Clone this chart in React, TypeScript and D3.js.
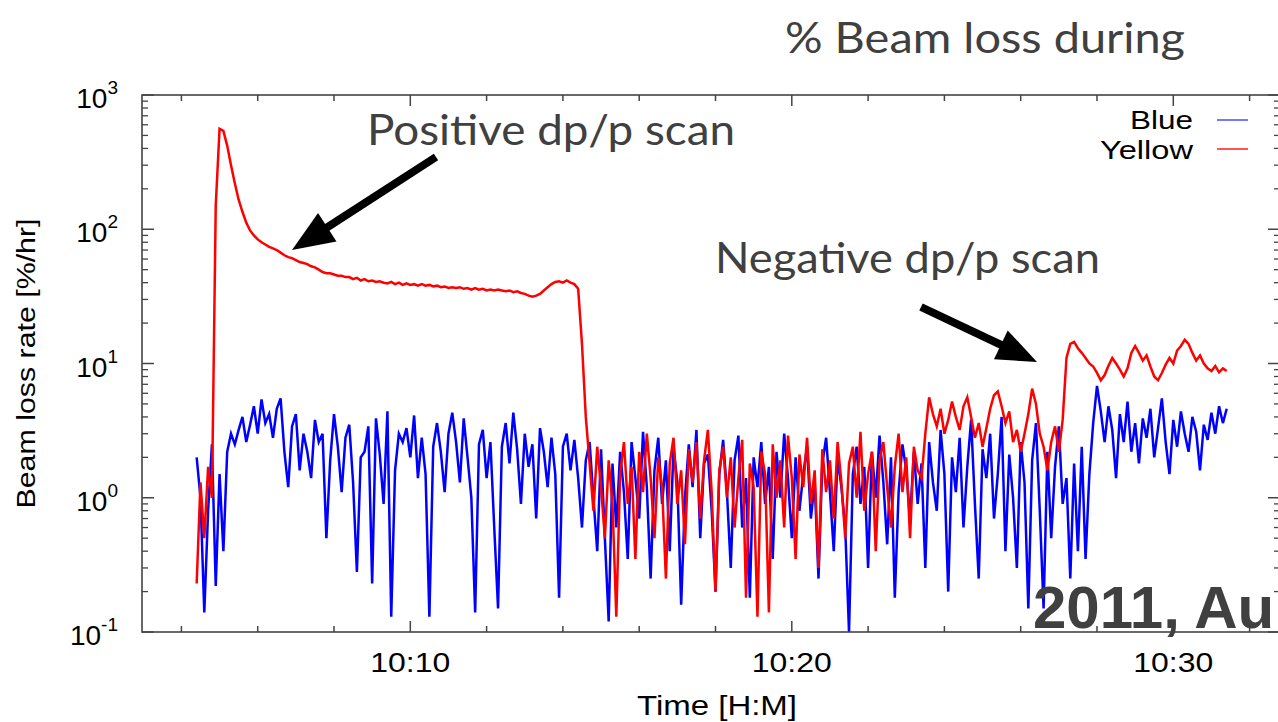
import React from "react";
import * as d3 from "d3";

// Sampling of both series: minutes after 10:00, one reading every 0.1 min
const sampleStart = 4.4;
const sampleStep = 0.1;

const blueValues = [
  2.0, 1.0, 0.14, 0.8, 2.5, 0.22, 1.5, 0.4, 2.2, 3.0,
  2.5, 3.2, 4.0, 2.6, 3.5, 4.8, 3.0, 5.4, 3.6, 4.2,
  2.8, 4.6, 5.5, 2.2, 1.2, 3.4, 4.2, 1.6, 3.0, 2.2,
  1.4, 3.8, 2.6, 3.0, 0.5, 1.9, 4.2, 2.4, 1.1, 2.8,
  3.5, 1.3, 0.28, 2.0, 2.2, 3.4, 0.23, 3.9, 2.1, 0.9,
  4.4, 0.13, 1.6, 3.0, 2.6, 3.3, 2.0, 4.1, 1.4, 2.8,
  1.5, 0.13, 2.4, 3.6, 2.2, 1.1, 3.0, 4.3, 2.6, 1.3,
  3.9, 2.0, 1.0, 0.14, 2.5, 3.2, 1.4, 2.6, 0.6, 0.15,
  2.4, 3.6, 1.8, 4.3, 2.3, 0.9, 3.0, 1.7, 2.5, 0.7,
  3.3, 2.2, 1.2, 2.8, 1.5, 0.18, 2.4, 3.0, 1.6, 2.7,
  1.4, 0.6, 1.9, 2.6, 1.0, 0.4, 2.3, 0.5, 0.12, 1.8,
  0.6, 2.2, 1.1, 0.35, 2.6, 1.4, 0.7, 3.1, 1.2, 0.25,
  1.6, 2.8, 0.9, 1.9, 0.4, 2.4, 1.3, 0.16, 1.0, 2.5,
  1.2, 3.2, 0.5, 1.8, 2.1, 0.8, 0.2, 1.5, 2.7, 1.1,
  0.3, 1.9, 2.9, 0.6, 1.4, 0.18, 2.0, 1.2, 2.6, 0.9,
  1.7, 0.35, 2.2, 1.0, 3.0, 1.4, 0.5, 2.0, 0.8, 1.5,
  2.4, 0.7, 1.3, 0.25, 1.8, 2.8, 1.1, 0.4, 2.0, 1.2,
  0.6, 0.1, 1.5, 2.4, 0.9, 1.7, 0.3, 2.2, 1.0, 2.9,
  1.3, 0.45, 2.0, 0.18, 1.1, 2.5, 1.6, 0.7, 2.2, 0.9,
  1.8, 0.3, 2.6, 1.3, 0.8, 3.2, 1.5, 0.2, 2.0, 1.1,
  2.8, 0.6, 1.7, 3.8, 0.9, 0.25, 2.3, 1.4, 3.0, 0.7,
  1.5, 4.0, 0.4, 2.1, 1.0, 0.3, 2.6, 1.3, 0.15, 1.9,
  3.6, 0.8, 0.15, 2.2, 0.5, 1.7, 3.4, 0.9, 1.4, 0.25,
  1.8, 0.4, 2.4, 0.35, 1.5, 3.6, 6.8, 4.4, 2.6, 4.8,
  3.2, 1.4, 4.2, 2.6, 5.2, 2.2, 3.6, 1.8, 3.9, 2.8,
  4.6, 2.0, 3.3, 5.5, 2.6, 1.5, 3.8, 2.4, 4.4, 3.0,
  2.2, 4.0, 3.1, 1.6, 3.5, 2.7, 4.3, 3.0, 4.8, 3.6,
  4.6,
];

const yellowValues = [
  0.23, 1.3, 0.5, 1.7, 1.0, 150, 560, 540, 420, 300,
  220, 166, 135, 112, 98, 90, 84, 80, 77, 74,
  72, 70, 67, 64, 62, 61, 59, 57, 56, 55,
  53, 52, 50, 48, 47, 47, 46, 45, 45, 44,
  44, 42.5, 43.5, 41.5, 42.5, 41, 41.5, 40.5, 41, 40,
  39.5, 40.5, 39, 40, 38.5, 39.5, 38.5, 39, 38, 39,
  38, 38.5, 37.5, 38, 37, 37.5, 36.5, 37, 36.5, 37,
  36, 36.5, 35.5, 36.5, 35.5, 36, 35, 35.5, 35, 35.5,
  35, 34.5, 35, 34, 34.5, 33.5, 33, 32, 31.5, 32,
  33, 35, 37, 39, 40.5, 41, 40, 41.5, 40, 39,
  36, 14, 4.0, 1.8, 0.8, 2.4, 1.2, 0.5, 1.9, 0.9,
  0.13, 1.5, 2.6, 0.9, 1.7, 0.35, 2.2, 1.1, 3.0, 1.4,
  0.5, 2.0, 1.2, 0.25, 1.8, 2.8, 0.9, 1.6, 0.45, 2.3,
  1.3, 2.6, 0.7, 1.9, 3.2, 1.1, 0.2, 1.6, 2.4, 1.0,
  2.0, 0.6, 1.4, 2.7, 0.18, 1.8, 1.2, 0.13, 2.2, 1.5,
  0.14, 2.5, 1.0, 1.9, 0.6, 2.9, 1.4, 0.35, 2.1, 1.2,
  2.8, 0.9, 1.6, 0.3, 2.3, 1.1, 1.9, 0.7, 2.6, 1.3,
  0.5, 1.8, 2.4, 1.0, 3.1, 0.8, 1.5, 2.2, 0.4, 1.9,
  2.6, 1.2, 0.6, 1.7, 3.0, 1.1, 2.0, 0.5, 2.4, 1.6,
  1.4, 3.0, 5.6, 4.2, 3.4, 4.6, 3.0, 3.8, 5.2, 4.0,
  3.2, 4.8, 5.6, 4.0, 2.8, 3.6, 2.4, 3.3, 4.6, 5.8,
  6.2, 4.8, 3.6, 4.4, 2.6, 3.2, 2.2, 3.0, 4.2, 6.5,
  5.0, 3.0, 2.4, 1.6, 2.6, 3.4, 2.2, 3.8, 11, 14,
  14.5, 13, 12, 11, 10, 9.5, 8.5, 7.5, 8.2, 9.6,
  11, 10, 9, 8.0, 9.2, 12, 13.5, 12, 10.5, 11.5,
  9.5, 8.0, 7.5, 8.5, 9.8, 11, 10, 12.5, 13.5, 15,
  14, 12, 10.5, 11.5, 10, 9.2, 8.8, 9.6, 8.6, 9.2,
  8.8,
];

const seriesNames = ["Blue", "Yellow"];
const xMajorTicks = [10, 20, 30]; // minutes after 10:00
const xMajorLabels = ["10:10", "10:20", "10:30"];
const yDecades = [0.1, 1, 10, 100, 1000];
const yDecadeExponents = ["-1", "0", "1", "2", "3"];

const W = 1278;
const H = 722;
const L = 142, R = 1280, T = 95, B = 632;

export default function App() {
  const x = d3.scaleLinear().domain([2.967, 32.797]).range([L, R]);
  const y = d3.scaleLog().domain([0.1, 1000]).range([B, T]);

  const toPts = (vals: number[]) =>
    vals.map((v, i) => [sampleStart + i * sampleStep, v] as [number, number]);

  const line = d3
    .line<[number, number]>()
    .x((d) => x(d[0]))
    .y((d) => y(d[1]));

  const minorX = d3.range(4, 33, 2).filter((m) => !xMajorTicks.includes(m));
  const minorY: number[] = [];
  for (let k = 0; k < 4; k++) {
    for (let m = 2; m <= 9; m++) minorY.push(m * yDecades[k]);
  }

  const axisColor = "#444";
  const axisFont = "'Liberation Sans', Arial, Helvetica, sans-serif";
  const annFont = "Lato, 'Open Sans', sans-serif";
  const annColor = "#404040";

  const arrow = (x1: number, y1: number, x2: number, y2: number, hl: number, hw: number) => {
    const dx = x2 - x1, dy = y2 - y1;
    const len = Math.hypot(dx, dy);
    const ux = dx / len, uy = dy / len;
    const bx = x2 - hl * ux, by = y2 - hl * uy;
    const nx = -uy, ny = ux;
    return (
      <g>
        <line x1={x1} y1={y1} x2={bx + ux * 2} y2={by + uy * 2} stroke="#000" strokeWidth={8} />
        <polygon
          points={`${x2},${y2} ${bx + nx * hw},${by + ny * hw} ${bx - nx * hw},${by - ny * hw}`}
          fill="#000"
        />
      </g>
    );
  };

  return (
    <svg
      width={W}
      height={H}
      style={{ position: "absolute", left: 0, top: 0, background: "#fff" }}
    >
      <defs>
        <clipPath id="plotClip">
          <rect x={L} y={T} width={R - L} height={B - T} />
        </clipPath>
      </defs>
      <rect x={0} y={0} width={W} height={H} fill="#fff" />

      {/* data */}
      <g clipPath="url(#plotClip)">
        <path d={line(toPts(blueValues)) || ""} fill="none" stroke="#0000ff" strokeWidth={2.5} strokeLinejoin="miter" />
        <path d={line(toPts(yellowValues)) || ""} fill="none" stroke="#ff0000" strokeWidth={2.5} strokeLinejoin="miter" />
      </g>

      {/* frame */}
      <rect x={L} y={T} width={R - L} height={B - T} fill="none" stroke={axisColor} strokeWidth={1.6} />

      {/* x ticks */}
      {xMajorTicks.map((m) => (
        <g key={"xm" + m}>
          <line x1={x(m)} x2={x(m)} y1={B} y2={B - 11} stroke={axisColor} strokeWidth={1.5} />
          <line x1={x(m)} x2={x(m)} y1={T} y2={T + 11} stroke={axisColor} strokeWidth={1.5} />
        </g>
      ))}
      {minorX.map((m) => (
        <g key={"xn" + m}>
          <line x1={x(m)} x2={x(m)} y1={B} y2={B - 6} stroke={axisColor} strokeWidth={1.5} />
          <line x1={x(m)} x2={x(m)} y1={T} y2={T + 6} stroke={axisColor} strokeWidth={1.5} />
        </g>
      ))}
      {xMajorTicks.map((m, i) => (
        <text
          key={"xl" + m}
          x={x(m)}
          y={672}
          textAnchor="middle"
          fontFamily={axisFont}
          fontSize={28.5}
          textLength={80}
          lengthAdjust="spacingAndGlyphs"
          fill="#000"
        >
          {xMajorLabels[i]}
        </text>
      ))}

      {/* y ticks */}
      {yDecades.map((v) => (
        <g key={"ym" + v}>
          <line x1={L} x2={L + 12} y1={y(v)} y2={y(v)} stroke={axisColor} strokeWidth={1.5} />
          <line x1={R} x2={R - 12} y1={y(v)} y2={y(v)} stroke={axisColor} strokeWidth={1.5} />
        </g>
      ))}
      {minorY.map((v, i) => (
        <g key={"yn" + i}>
          <line x1={L} x2={L + 6} y1={y(v)} y2={y(v)} stroke={axisColor} strokeWidth={1.3} />
          <line x1={R} x2={R - 6} y1={y(v)} y2={y(v)} stroke={axisColor} strokeWidth={1.3} />
        </g>
      ))}
      {yDecades.map((v, i) => (
        <text
          key={"yl" + v}
          x={118}
          y={y(v) + 13}
          textAnchor="end"
          fontFamily={axisFont}
          fontSize={28}
          fill="#000"
        >
          10
          <tspan fontSize={19} dy={-14}>
            {yDecadeExponents[i]}
          </tspan>
        </text>
      ))}

      {/* axis titles */}
      <text
        transform={`translate(35, ${(T + B) / 2}) rotate(-90)`}
        textAnchor="middle"
        fontFamily={axisFont}
        fontSize={25}
        textLength={290}
        lengthAdjust="spacingAndGlyphs"
        fill="#000"
      >
        Beam loss rate [%/hr]
      </text>
      <text
        x={717}
        y={715}
        textAnchor="middle"
        fontFamily={axisFont}
        fontSize={27}
        textLength={160}
        lengthAdjust="spacingAndGlyphs"
        fill="#000"
      >
        Time [H:M]
      </text>

      {/* legend */}
      {seriesNames.map((name, i) => (
        <g key={"lg" + name}>
          <text
            x={1193}
            y={129 + i * 30}
            textAnchor="end"
            fontFamily={axisFont}
            fontSize={26}
            textLength={i === 0 ? 63 : 93}
            lengthAdjust="spacingAndGlyphs"
            fill="#000"
          >
            {name}
          </text>
          <line
            x1={1217}
            x2={1248}
            y1={120 + i * 29}
            y2={120 + i * 29}
            stroke={i === 0 ? "#5555ff" : "#ff2a2a"}
            strokeWidth={1.6}
          />
        </g>
      ))}

      {/* annotations */}
      <text x={785} y={53} fontFamily={annFont} fontSize={43} fill={annColor} textLength={400} lengthAdjust="spacingAndGlyphs">
        % Beam loss during
      </text>
      <text x={367} y={145} fontFamily={annFont} fontSize={43} fill={annColor} textLength={368} lengthAdjust="spacingAndGlyphs">
        Positive dp/p scan
      </text>
      <text x={715} y={273} fontFamily={annFont} fontSize={42} fill={annColor} textLength={385} lengthAdjust="spacingAndGlyphs">
        Negative dp/p scan
      </text>
      {arrow(436, 157, 292, 250, 42, 17)}
      {arrow(921, 307, 1037, 362, 40, 16)}
      <text
        x={1033}
        y={628}
        fontFamily={axisFont}
        fontWeight="bold"
        fontSize={60}
        fill={annColor}
      >
        2011, Au
      </text>
    </svg>
  );
}
